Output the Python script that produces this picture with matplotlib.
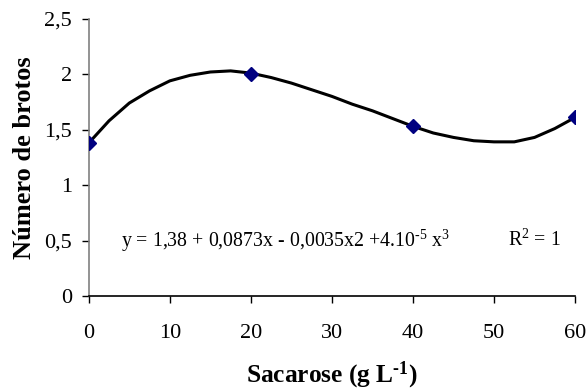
import matplotlib
matplotlib.use("Agg")
import matplotlib.pyplot as plt

# observed means
sacarose = [0, 20, 40, 60]
brotos = [1.38, 2.00, 1.53, 1.61]

# fitted trend line
curva_x = [0, 2.5, 5, 7.5, 10, 12.5, 15, 17.5, 20, 22.5, 25, 27.5, 30,
           32.5, 35, 37.5, 40, 42.5, 45, 47.5, 50, 52.5, 55, 57.5, 60]
curva_y = [1.38, 1.58, 1.74, 1.85, 1.94, 1.99, 2.02, 2.03, 2.01, 1.97, 1.92,
           1.86, 1.80, 1.73, 1.67, 1.60, 1.53, 1.47, 1.43, 1.40, 1.39, 1.39,
           1.43, 1.51, 1.61]

y_ticks = [0, 0.5, 1, 1.5, 2, 2.5]
y_labels = ["0", "0,5", "1", "1,5", "2", "2,5"]
x_ticks = [0, 10, 20, 30, 40, 50, 60]

plt.rcParams['font.family'] = ['Liberation Serif', 'DejaVu Serif']
plt.rcParams['mathtext.fontset'] = 'custom'
plt.rcParams['mathtext.rm'] = 'Liberation Serif'
plt.rcParams['mathtext.it'] = 'Liberation Serif:italic'
plt.rcParams['mathtext.bf'] = 'Liberation Serif:bold'

fig = plt.figure(figsize=(5.88, 3.91), dpi=100)
ax = fig.add_axes([0.151, 0.243, 0.827, 0.709])

ax.plot(curva_x, curva_y, color='black', lw=2.2, zorder=2)
ax.plot(sacarose, brotos, ls='none', marker='D', ms=7, color='#000080', zorder=3)

ax.set_xlim(0, 60)
ax.set_ylim(0, 2.5)
ax.set_xticks(x_ticks)
ax.set_yticks(y_ticks)
ax.set_yticklabels(y_labels)
ax.tick_params(labelsize=16, direction='out', length=5, width=1, pad=7)
ax.tick_params(axis='x', pad=15)

for s in ['top', 'right']:
    ax.spines[s].set_visible(False)
ax.spines['left'].set_color('#808080')
ax.spines['bottom'].set_color('black')
ax.spines['left'].set_linewidth(1.2)
ax.spines['bottom'].set_linewidth(1.2)

ax.set_ylabel('Número de brotos', fontsize=19, fontweight='bold', labelpad=6)
ax.set_xlabel('Sacarose (g L$^{\\mathbf{\u2010}\\mathbf{1}}$)', fontsize=18.3,
              fontweight='bold', labelpad=12)

ax.text(4.0, 0.5, 'y = 1,38 + 0,0873x - 0,0035x2 +4.10$^{\\mathrm{\u20105}}$ x$^{\\mathrm{3}}$',
        fontsize=14.3, va='center', ha='left')
ax.text(51.7, 0.5, 'R$^{\\mathrm{2}}$ = 1', fontsize=14.3, va='center', ha='left')

fig.savefig('out.png', dpi=100)
